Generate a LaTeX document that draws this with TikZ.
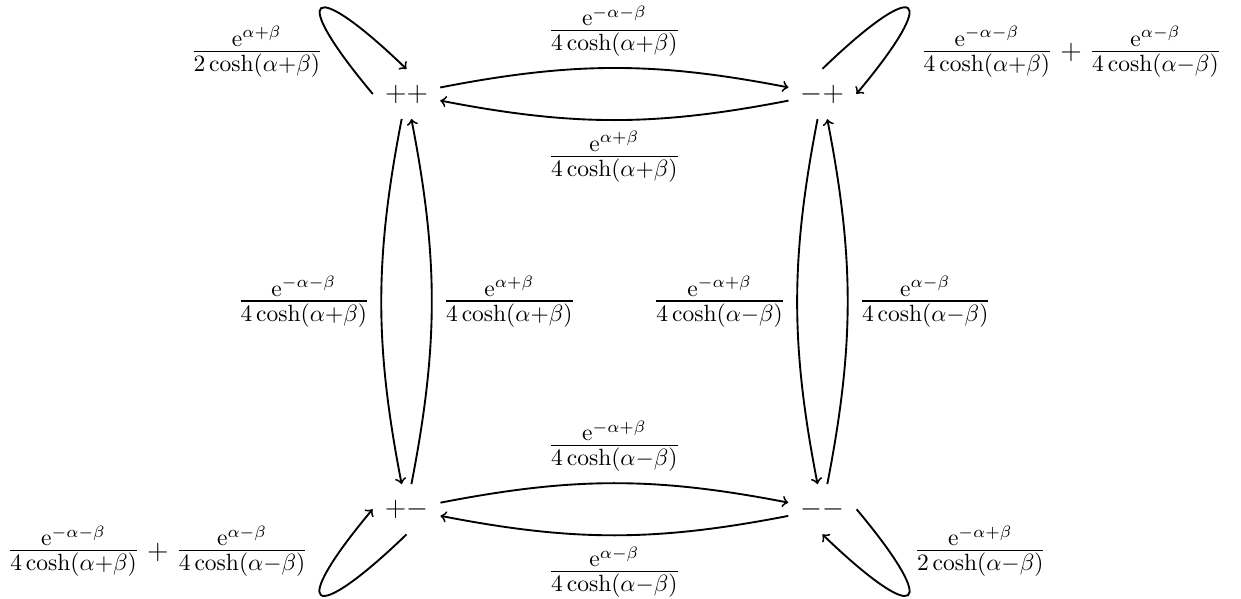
\documentclass[tikz,border=0pt]{standalone}
\usepackage{amsmath}
\begin{document}
\begin{tikzpicture}[line/.style={thick},
                    state/.style={inner xsep=5pt,inner ysep=6.5pt,font=\large},
                    rate/.style={inner sep=4.5pt,font=\Large}]
 \useasboundingbox (-6.08,-7.54) rectangle (12.48,1.406);
 \node[state] (pp) at (0,0) {$++$};
 \node[state] (mp) at (6.22,0) {$-+$};
 \node[state] (pm) at (0,-6.21) {$+-$};
 \node[state] (mm) at (6.22,-6.21) {$--$};
 \draw[line,->] (pp) to[bend left=11] node[rate,above] {$\frac{\mathrm{e}^{-\alpha-\beta}}{4\cosh(\alpha+\beta)}$} (mp);
 \draw[line,->] (mp) to[bend left=11] node[rate,below] {$\frac{\mathrm{e}^{\alpha+\beta}}{4\cosh(\alpha+\beta)}$} (pp);
 \draw[line,->] (pp) to[bend right=11] node[rate,left] {$\frac{\mathrm{e}^{-\alpha-\beta}}{4\cosh(\alpha+\beta)}$} (pm);
 \draw[line,->] (pm) to[bend right=11] node[rate,right] {$\frac{\mathrm{e}^{\alpha+\beta}}{4\cosh(\alpha+\beta)}$} (pp);
 \draw[line,->] (mp) to[bend right=11] node[rate,left] {$\frac{\mathrm{e}^{-\alpha+\beta}}{4\cosh(\alpha-\beta)}$} (mm);
 \draw[line,->] (mm) to[bend right=11] node[rate,right] {$\frac{\mathrm{e}^{\alpha-\beta}}{4\cosh(\alpha-\beta)}$} (mp);
 \draw[line,->] (pm) to[bend left=11] node[rate,above] {$\frac{\mathrm{e}^{-\alpha+\beta}}{4\cosh(\alpha-\beta)}$} (mm);
 \draw[line,->] (mm) to[bend left=11] node[rate,below] {$\frac{\mathrm{e}^{\alpha-\beta}}{4\cosh(\alpha-\beta)}$} (pm);
 \draw[line,->] (pp.west) to[out=130,in=136,distance=2cm] (pp.north);
 \draw[line,->] (mp.north) to[out=44,in=50,distance=2cm] (mp.east);
 \draw[line,->] (pm.south) to[out=224,in=230,distance=2cm] (pm.west);
 \draw[line,->] (mm.east) to[out=310,in=316,distance=2cm] (mm.south);
 \node[rate] (Lpp) at (-2.24,.63) {$\frac{\mathrm{e}^{\alpha+\beta}}{2\cosh(\alpha+\beta)}$};
 \node[rate] (Lmp) at (9.94,.63) {$\frac{\mathrm{e}^{-\alpha-\beta}}{4\cosh(\alpha+\beta)}\mathbin{\text{\large$+$}}\frac{\mathrm{e}^{\alpha-\beta}}{4\cosh(\alpha-\beta)}$};
 \node[rate] (Lpm) at (-3.72,-6.84) {$\frac{\mathrm{e}^{-\alpha-\beta}}{4\cosh(\alpha+\beta)}\mathbin{\text{\large$+$}}\frac{\mathrm{e}^{\alpha-\beta}}{4\cosh(\alpha-\beta)}$};
 \node[rate] (Lmm) at (8.58,-6.84) {$\frac{\mathrm{e}^{-\alpha+\beta}}{2\cosh(\alpha-\beta)}$};
\end{tikzpicture}
\end{document}
